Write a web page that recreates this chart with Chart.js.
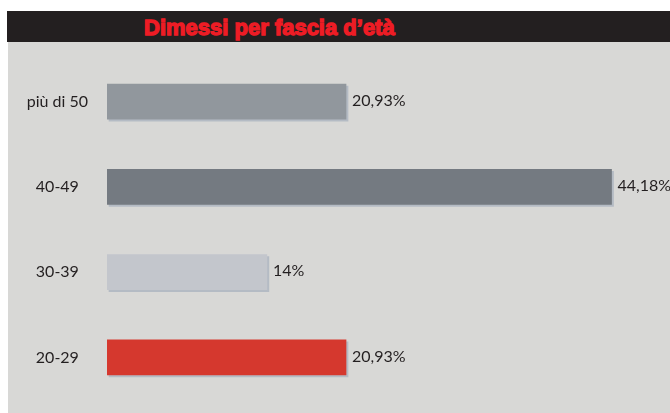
<!DOCTYPE html>
<html>
<head>
<meta charset="utf-8">
<script src="https://cdn.jsdelivr.net/npm/chart.js@4/dist/chart.umd.min.js"></script>
<style>
  body { margin: 0; background: #ffffff; width: 670px; height: 413px; overflow: hidden; position: relative; }
  #header {
    position: absolute; left: 7px; top: 11px; width: 663px; height: 31px;
    background: #231f20;
  }
  #header span {
    position: absolute; left: 137px; top: 4px;
    font-family: "Liberation Sans Narrow", "Liberation Sans", sans-serif;
    font-weight: bold; font-size: 22px; color: #ee1c25;
    -webkit-text-stroke: 1.3px #ee1c25; white-space: nowrap;
  }
  #panel { position: absolute; left: 8px; top: 42px; width: 662px; height: 371px; background: #d8d8d6; }
</style>
</head>
<body>
<div id="header"><span>Dimessi per fascia d’età</span></div>
<div id="panel"><canvas id="chart" width="662" height="371"></canvas></div>
<script>
const categories = ['più di 50', '40-49', '30-39', '20-29'];
const percentages = [20.93, 44.18, 14, 20.93];
const valueLabels = ['20,93%', '44,18%', '14%', '20,93%'];
const barColors = ['#91979d', '#747a81', '#c3c6cc', '#d5382e'];

const textColor = '#231f20';
const labelFont = '"Lato", "Open Sans", sans-serif';

// drop shadow under each bar, like the printed original
const barShadow = {
    id: 'barShadow',
    beforeDatasetDraw(chart) {
        const ctx = chart.ctx;
        ctx.save();
        ctx.shadowColor = '#b4bbc4';
        ctx.shadowOffsetX = 2;
        ctx.shadowOffsetY = 2;
        ctx.shadowBlur = 0;
    },
    afterDatasetDraw(chart) {
        chart.ctx.restore();
    }
};

// percent text to the right of each bar
const valueText = {
    id: 'valueText',
    afterDatasetsDraw(chart) {
        const ctx = chart.ctx;
        ctx.save();
        ctx.font = '16px ' + labelFont;
        ctx.fillStyle = textColor;
        ctx.textAlign = 'left';
        ctx.textBaseline = 'middle';
        chart.getDatasetMeta(0).data.forEach((bar, i) => {
            ctx.fillText(valueLabels[i], bar.x + 6, bar.y - 1);
        });
        ctx.restore();
    }
};

new Chart(document.getElementById('chart'), {
    type: 'bar',
    data: {
        labels: categories,
        datasets: [{
            data: percentages,
            backgroundColor: barColors,
            borderWidth: 0,
            barThickness: 35
        }]
    },
    options: {
        indexAxis: 'y',
        responsive: false,
        animation: false,
        layout: { padding: { top: 17, bottom: 13, left: 0, right: 0 } },
        plugins: {
            legend: { display: false },
            tooltip: { enabled: false }
        },
        scales: {
            x: {
                display: false,
                min: 0,
                max: 49.3
            },
            y: {
                grid: { display: false, drawTicks: false },
                border: { display: false },
                afterFit: (axis) => {
                    axis.width = 99;
                    axis.paddingTop = 0;
                    axis.paddingBottom = 0;
                },
                ticks: {
                    color: textColor,
                    font: { family: labelFont, size: 16 },
                    crossAlign: 'center',
                    padding: 19
                }
            }
        }
    },
    plugins: [barShadow, valueText]
});
</script>
</body>
</html>
